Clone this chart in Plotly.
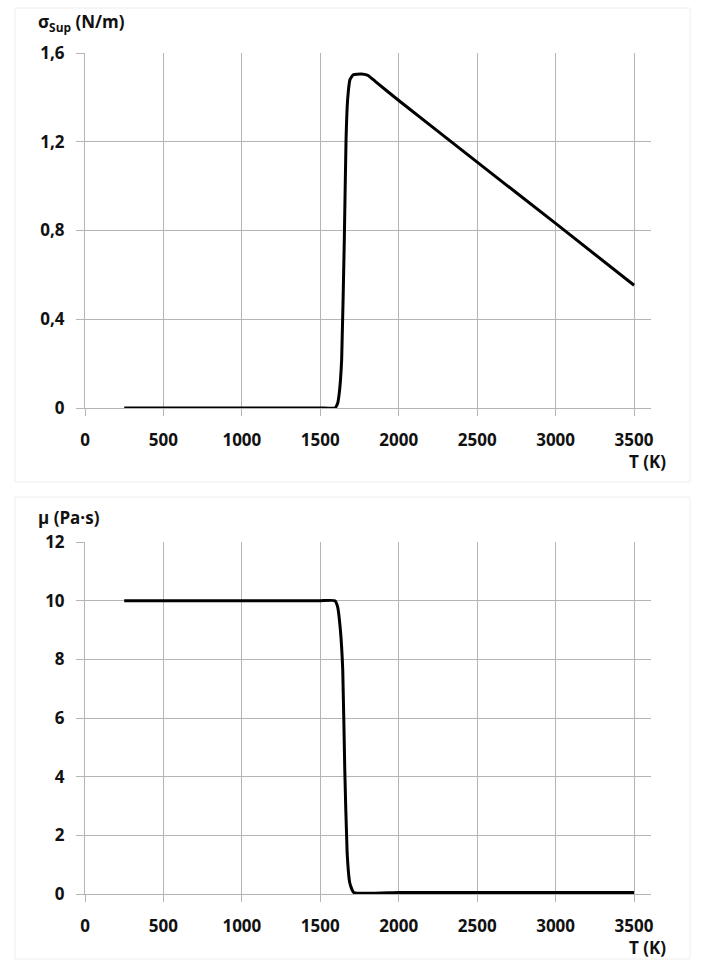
import plotly.graph_objects as go

# ---- data ----
T_sigma = [250, 500, 1000, 1500, 1593, 1610, 1621, 1636, 1653, 1664, 1674, 1689, 1710,
           1760, 1800, 1820, 1850, 2000, 2500, 3000, 3500]
sigma = [0.0, 0.0, 0.0, 0.0, 0.0, 0.02, 0.068, 0.217, 0.758, 1.209, 1.389, 1.48, 1.502,
         1.505, 1.50, 1.49, 1.472, 1.386, 1.108, 0.832, 0.553]

T_mu = [250, 500, 1000, 1500, 1593, 1610, 1628, 1643, 1656, 1671, 1688, 1713, 2000,
        2500, 3000, 3500]
mu = [10.0, 10.0, 10.0, 10.0, 10.0, 9.8, 9.0, 7.64, 4.23, 1.40, 0.375, 0.05, 0.05,
      0.05, 0.05, 0.05]

x_ticks = [0, 500, 1000, 1500, 2000, 2500, 3000, 3500]
x_ticktext = ["0", "500", "1000", "1500", "2000", "2500", "3000", "3500"]
sigma_ticks = [0, 0.4, 0.8, 1.2, 1.6]
sigma_ticktext = ["0", "0,4", "0,8", "1,2", "1,6"]
mu_ticks = [0, 2, 4, 6, 8, 10, 12]
mu_ticktext = ["0", "2", "4", "6", "8", "10", "12"]

W, H = 708, 960
FONT = "Open Sans"
GRID = "#b4b4b4"

def px_x(p):
    return p / W

def px_y(p):
    return 1 - p / H

fig = go.Figure()
fig.add_trace(go.Scatter(x=T_sigma, y=sigma, mode="lines",
                         line=dict(color="black", width=3, shape="spline", smoothing=0.4),
                         xaxis="x", yaxis="y", showlegend=False))
fig.add_trace(go.Scatter(x=T_mu, y=mu, mode="lines",
                         line=dict(color="black", width=3, shape="spline", smoothing=0.4),
                         xaxis="x2", yaxis="y2", showlegend=False))

tickfont = dict(family=FONT, size=17, color="#111111", weight="bold")

def xax(anchor, domain):
    return dict(domain=domain, anchor=anchor, range=[0, 3608], tickvals=x_ticks, ticktext=x_ticktext,
                showgrid=True, gridcolor=GRID, gridwidth=1, zeroline=False, showline=True, linecolor=GRID,
                ticks="outside", ticklen=7, tickcolor=GRID, tickfont=tickfont, ticklabelstandoff=10,
                fixedrange=True, automargin=False)

def yax(anchor, domain, rng, vals, text):
    return dict(domain=domain, anchor=anchor, range=rng, tickvals=vals, ticktext=text,
                showgrid=True, gridcolor=GRID, gridwidth=1, zeroline=False, showline=True, linecolor=GRID,
                ticks="outside", ticklen=8, tickcolor=GRID, tickfont=tickfont, ticklabelstandoff=8,
                fixedrange=True, automargin=False)

xdom = [px_x(85), px_x(651)]
fig.update_layout(
    template="none",
    width=W, height=H, margin=dict(l=0, r=0, t=0, b=0, pad=0, autoexpand=False),
    paper_bgcolor="white", plot_bgcolor="white",
    xaxis=xax("y", xdom),
    yaxis=yax("x", [px_y(408), px_y(53)], [0, 1.6], sigma_ticks, sigma_ticktext),
    xaxis2=xax("y2", xdom),
    yaxis2=yax("x2", [px_y(894), px_y(542)], [0, 12], mu_ticks, mu_ticktext),
    font=dict(family=FONT),
    showlegend=False,
)

annfont = dict(family=FONT, size=17, color="#111111", weight="bold")
fig.add_annotation(text="σ<sub>Sup</sub> (N/m)", x=px_x(36), y=px_y(22), xref="paper", yref="paper",
                   xanchor="left", yanchor="middle", showarrow=False, font=annfont)
fig.add_annotation(text="μ (Pa·s)", x=px_x(36), y=px_y(517), xref="paper", yref="paper",
                   xanchor="left", yanchor="middle", showarrow=False, font=annfont)
fig.add_annotation(text="T (K)", x=px_x(668), y=px_y(462), xref="paper", yref="paper",
                   xanchor="right", yanchor="middle", showarrow=False, font=annfont)
fig.add_annotation(text="T (K)", x=px_x(668), y=px_y(947), xref="paper", yref="paper",
                   xanchor="right", yanchor="middle", showarrow=False, font=annfont)

# faint chart-area frames
for (y0, y1) in [(8, 482), (497, 959)]:
    fig.add_shape(type="rect", xref="paper", yref="paper", x0=px_x(15), x1=px_x(690),
                  y0=px_y(y1), y1=px_y(y0), line=dict(color="#eeeeee", width=1), layer="below")

fig.write_html("out.html")
